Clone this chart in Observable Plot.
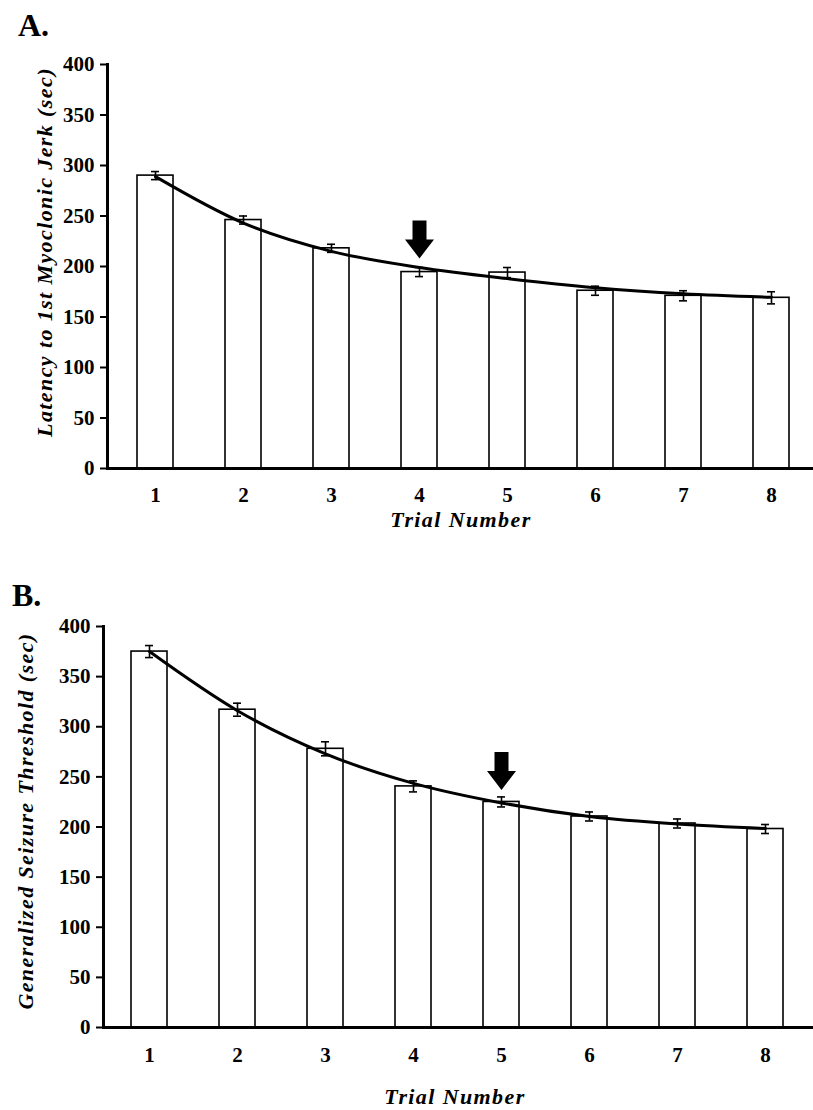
<!DOCTYPE html>
<html><head><meta charset="utf-8">
<script src="https://cdn.jsdelivr.net/npm/d3@7"></script>
<script src="https://cdn.jsdelivr.net/npm/@observablehq/plot@0.6"></script>
<style>
body{margin:0;background:#fff;}
#root{position:relative;width:813px;height:1110px;overflow:hidden;font-family:"Liberation Serif","Times New Roman",serif;color:#000;background:#fff;}
.panel{position:absolute;left:0;z-index:0;}
.t{position:absolute;white-space:nowrap;line-height:1;font-weight:bold;z-index:2;}
.lbl{font-size:22px;font-style:italic;letter-spacing:1.4px;}
.rot{transform:translate(-50%,-50%) rotate(-90deg);}
.hc{transform:translateX(-50%);}
</style></head>
<body>
<div id="root">
  <div id="panelA" class="panel" style="top:0px;"></div>
  <div id="panelB" class="panel" style="top:555px;"></div>
  <div class="t" style="left:18px;top:9px;font-size:32px;">A.</div>
  <div class="t lbl rot" style="left:45px;top:252px;">Latency to 1st Myoclonic Jerk (sec)</div>
  <div class="t lbl hc" style="left:461px;top:509px;">Trial Number</div>
  <div class="t" style="left:12px;top:579px;font-size:32px;">B.</div>
  <div class="t lbl rot" style="left:26px;top:821px;">Generalized Seizure Threshold (sec)</div>
  <div class="t lbl hc" style="left:455px;top:1086px;">Trial Number</div>
</div>
<script>
// ---- data ----
const trials = [1, 2, 3, 4, 5, 6, 7, 8];
const yTicks = [0, 50, 100, 150, 200, 250, 300, 350, 400];

const latencyMean = [290, 246, 218, 194.5, 194, 176, 171, 169];
const latencySem  = [4, 4, 4, 4.5, 5, 4.5, 5, 6];
const latencyFit  = [289, 243, 215, 199, 188, 179, 173, 169.5];
const latencyArrow = [{trial: 4, tip: 208}];

const thresholdMean = [375, 317, 278, 240.5, 225, 210.5, 203.5, 198];
const thresholdSem  = [6, 6.5, 7, 5.5, 5, 4.5, 4.5, 4.5];
const thresholdFit  = [375, 316, 273, 243.5, 224, 210.5, 203, 198.5];
const thresholdArrow = [{trial: 5, tip: 237}];

// block arrow symbol, tip at the anchor, pointing down
const blockArrow = {
  draw(ctx) {
    ctx.moveTo(0, 0);
    ctx.lineTo(-14.5, -19);
    ctx.lineTo(-7, -19);
    ctx.lineTo(-7, -38);
    ctx.lineTo(7, -38);
    ctx.lineTo(7, -19);
    ctx.lineTo(14.5, -19);
    ctx.closePath();
  }
};

function panel({means, sems, fit, arrow, height, marginTop, marginBottom, marginLeft, xRange, tickPad}) {
  const rows = trials.map((t, i) => ({trial: t, mean: means[i], lo: means[i] - sems[i], hi: means[i] + sems[i], fit: fit[i]}));
  return Plot.plot({
    width: 813,
    height,
    marginTop,
    marginBottom,
    marginLeft,
    marginRight: 0,
    style: {fontFamily: '"Liberation Serif", "Times New Roman", serif', fontSize: "21px", fontWeight: "bold", color: "#000", background: "transparent"},
    x: {type: "band", domain: trials, range: xRange, paddingInner: 0.595, paddingOuter: 0.2975, label: null},
    y: {domain: [0, 400], label: null},
    marks: [
      Plot.barY(rows, {x: "trial", y: "mean", fill: "white", stroke: "black", strokeWidth: 1.6}),
      Plot.ruleX(rows, {x: "trial", y1: "lo", y2: "hi", stroke: "black", strokeWidth: 1.6}),
      Plot.tickY(rows, {x: "trial", y: "lo", stroke: "black", strokeWidth: 1.6, insetLeft: 14, insetRight: 14}),
      Plot.tickY(rows, {x: "trial", y: "hi", stroke: "black", strokeWidth: 1.6, insetLeft: 14, insetRight: 14}),
      Plot.line(rows, {x: "trial", y: "fit", curve: "monotone-x", stroke: "black", strokeWidth: 3}),
      Plot.dot(arrow, {x: "trial", y: "tip", symbol: blockArrow, fill: "black", stroke: "none", r: 5}),
      Plot.ruleY([0], {stroke: "black", strokeWidth: 3}),
      Plot.frame({anchor: "left", stroke: "black", strokeWidth: 3}),
      Plot.axisY({ticks: yTicks, tickSize: 7, tickPadding: 6, strokeWidth: 2, label: null, fontSize: 21}),
      Plot.axisX({tickSize: 0, tickPadding: tickPad, label: null, fontSize: 21})
    ]
  });
}

document.getElementById("panelA").append(panel({
  means: latencyMean, sems: latencySem, fit: latencyFit, arrow: latencyArrow,
  height: 555, marginTop: 64, marginBottom: 87, marginLeft: 107, xRange: [107, 818], tickPad: 19
}));
document.getElementById("panelB").append(panel({
  means: thresholdMean, sems: thresholdSem, fit: thresholdFit, arrow: thresholdArrow,
  height: 555, marginTop: 71, marginBottom: 83, marginLeft: 103, xRange: [103, 811], tickPad: 20
}));
</script>
</body></html>
